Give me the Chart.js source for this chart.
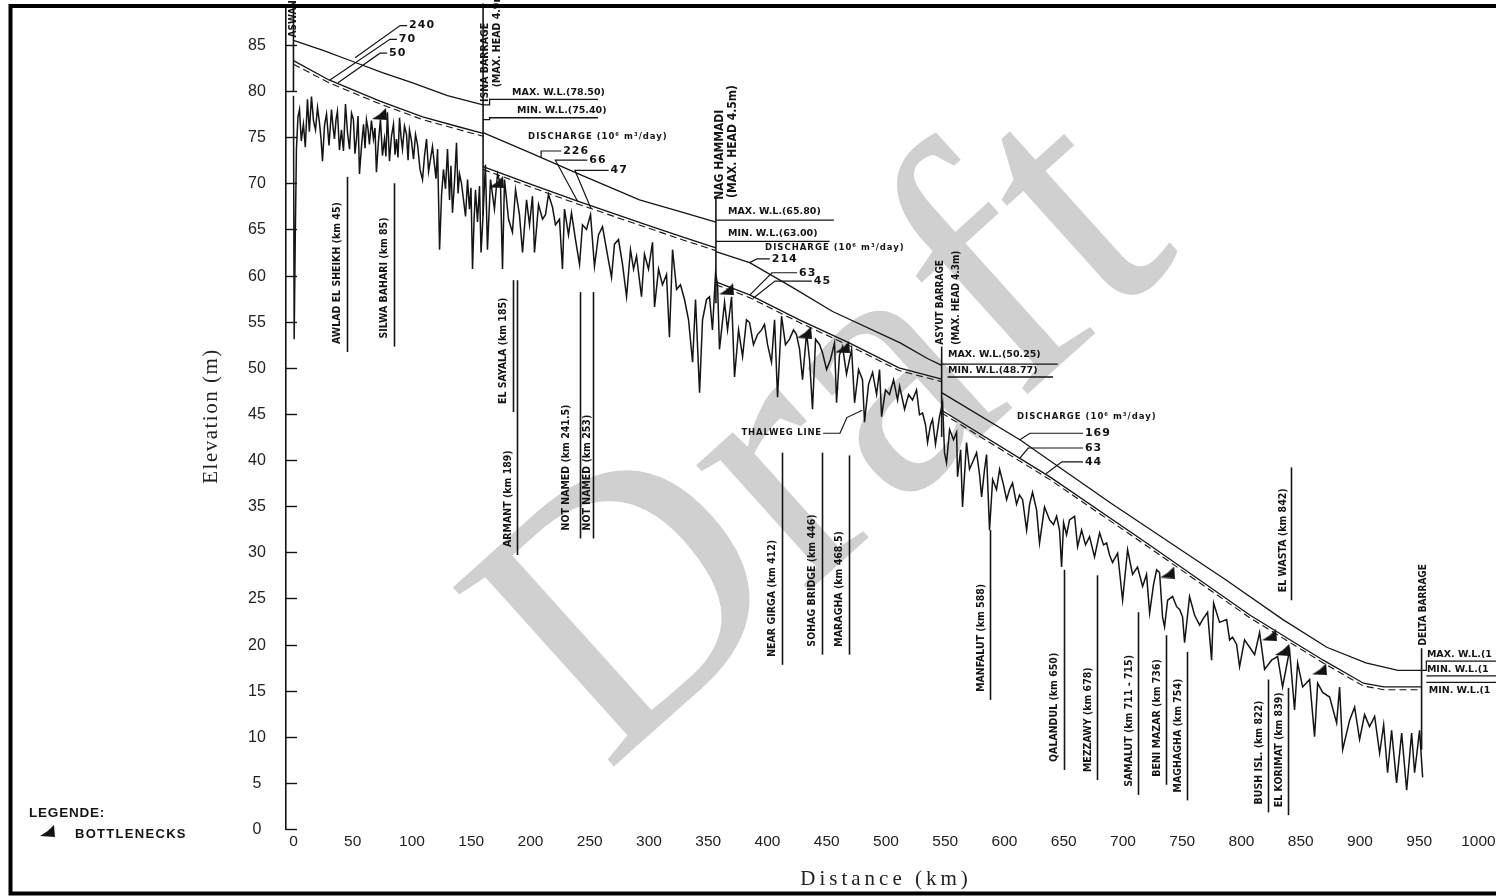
<!DOCTYPE html>
<html>
<head>
<meta charset="utf-8">
<title>Nile longitudinal profile, Aswan to Delta Barrage</title>
<script src="https://cdn.jsdelivr.net/npm/chart.js@4.4.1/dist/chart.umd.min.js"></script>
<style>
  html, body { margin: 0; padding: 0; background: #fff; }
  #wrap { width: 1496px; height: 896px; position: relative; overflow: hidden; }
  canvas { display: block; }
</style>
</head>
<body>
<div id="wrap"><canvas id="profile" width="1496" height="896"></canvas></div>
<script>
// ---------------------------------------------------------------------------
// Thalweg (deepest bed level) per reach, [distance km, elevation m]
// ---------------------------------------------------------------------------
const thalwegAswanIsna = [
  [0,79.5],[0.6,53.1],[1.5,64.0],[2.5,73.7],[3.8,77.2],[5.1,78.0],[6.6,74.6],[8.4,76.4],[10.0,73.9],
  [11.8,79.1],[13.4,75.6],[15.2,79.4],[16.9,76.8],[18.6,75.8],[20.3,78.2],[21.9,76.6],[23.2,74.9],
  [24.5,72.4],[26.2,76.3],[27.9,77.5],[30.0,74.1],[32.1,78.0],[33.4,76.1],[34.6,74.8],[35.9,76.9],
  [37.1,77.8],[38.8,73.6],[40.5,75.8],[42.2,73.5],[43.9,78.6],[45.6,75.5],[47.3,73.7],[49.0,77.6],
  [50.6,76.9],[51.9,73.2],[53.2,74.8],[54.5,77.3],[55.7,71.0],[57.4,74.0],[59.1,76.4],[60.4,73.8],
  [61.6,76.9],[62.9,75.9],[64.1,74.2],[65.8,76.8],[67.5,74.8],[68.8,76.0],[70.0,71.2],[71.7,74.5],
  [73.4,76.9],[75.1,73.0],[76.8,74.8],[78.0,72.9],[79.3,77.7],[81.0,72.4],[82.7,75.1],[84.4,76.4],
  [85.7,73.1],[86.9,74.8],[88.2,72.8],[89.5,77.1],[90.8,75.0],[92.0,73.7],[93.7,76.2],[95.4,75.3],
  [96.7,72.5],[97.9,75.8],[99.6,74.6],[101.3,72.6],[103.0,75.3],[104.7,74.2],[106.8,71.5],[108.9,70.4],
  [110.6,73.0],[112.3,74.8],[114.0,71.3],[115.6,72.6],[117.3,74.0],[119.0,72.0],[120.3,70.5],[121.6,73.7],
  [123.3,62.8],[125.0,68.8],[126.6,71.5],[128.3,69.4],[130.0,73.7],[131.7,68.2],[132.9,71.9],[134.2,66.8],
  [135.9,70.2],[137.6,74.4],[138.9,68.9],[140.1,71.0],[141.8,70.0],[143.5,68.2],[145.2,66.4],[146.9,70.4],
  [148.5,67.2],[149.8,69.5],[151.1,60.7],[152.4,66.0],[153.6,69.3],[155.3,65.8],[157.0,69.7],[158.3,62.5],
  [159.5,65.3]
];
const thalwegIsnaNagHammadi = [
  [162.0,72.0],[163.7,62.8],[166.3,70.4],[169.6,67.2],[172.2,71.0],[174.7,69.9],[176.4,60.7],[178.1,70.4],
  [181.5,66.1],[184.8,64.7],[187.4,69.3],[190.7,66.6],[193.3,62.5],[196.7,68.2],[199.2,65.5],[201.7,68.6],
  [203.4,62.5],[206.8,67.7],[210.2,66.1],[212.7,66.6],[215.2,68.8],[218.6,67.4],[221.1,65.5],[224.5,66.1],
  [227.0,60.7],[228.7,67.2],[232.1,64.4],[234.6,66.8],[238.0,63.9],[241.4,61.2],[243.9,65.5],[247.3,65.0],
  [250.7,66.6],[254.0,61.0],[257.4,64.4],[260.8,65.3],[264.2,62.8],[268.4,59.8],[270.9,63.4],[274.3,63.9],
  [277.7,61.2],[281.1,57.7],[284.4,62.8],[287.0,60.7],[289.5,62.1],[293.7,57.7],[296.2,62.3],[299.6,60.7],
  [303.0,63.6],[304.7,56.6],[308.1,60.7],[311.4,59.0],[314.8,60.1],[317.3,53.3],[319.9,62.8],[323.3,58.5],
  [326.6,59.0],[330.0,57.4],[333.4,55.2],[336.8,50.6],[339.3,57.4],[342.7,47.3],[345.2,55.2],[348.6,57.4],
  [351.1,57.7],[353.6,54.1],[356.2,60.3]
];
const thalwegNagHammadiAsyut = [
  [357.9,59.0],[359.5,52.0],[363.8,57.1],[366.3,54.1],[369.7,57.7],[372.2,49.0],[375.6,54.1],[379.0,51.2],
  [382.3,55.2],[384.9,54.9],[388.2,52.5],[391.6,53.6],[395.0,54.1],[397.5,54.7],[400.1,52.5],[403.4,50.6],
  [406.0,55.2],[408.5,46.8],[411.9,55.6],[415.2,52.5],[418.6,53.1],[422.0,54.1],[424.5,53.6],[427.1,52.0],
  [429.6,48.7],[433.0,53.8],[435.5,50.9],[438.0,45.5],[440.6,53.1],[444.0,52.5],[446.5,51.6],[449.9,49.8],
  [453.2,50.9],[456.6,52.7],[458.3,46.2],[460.8,51.4],[463.4,52.3],[466.7,49.3],[471.0,52.0],[473.5,46.2],
  [476.9,49.8],[480.2,48.7],[481.9,44.1],[485.3,48.2],[488.7,49.5],[492.1,47.1],[494.6,49.8],[496.3,44.7],
  [499.6,47.6],[503.0,47.1],[506.4,48.7],[509.8,46.5],[511.5,48.0],[515.7,45.5],[519.1,47.1],[522.4,46.5],
  [525.8,47.6],[528.3,44.9],[530.9,45.1],[533.4,43.8],[535.1,41.9],[537.6,43.8],[539.3,44.4],[541.8,41.7],
  [545.2,44.7],[547.8,46.2]
];
const thalwegAsyutDelta = [
  [549.4,40.8],[551.1,39.7],[553.7,43.3],[557.0,42.2],[559.6,43.0],[560.4,38.2],[563.0,41.1],[564.6,34.9],
  [568.0,41.9],[570.5,39.0],[573.9,40.0],[576.5,40.8],[579.0,38.4],[580.7,36.0],[583.2,39.0],[584.9,40.6],
  [587.4,32.4],[590.0,37.9],[593.3,36.8],[595.9,39.0],[599.2,37.3],[601.8,35.7],[604.3,36.8],[606.8,37.5],
  [610.2,35.2],[612.7,36.2],[615.3,35.7],[618.7,32.4],[621.2,35.2],[623.7,36.5],[627.1,34.6],[629.6,31.0],
  [633.8,34.9],[638.1,33.5],[641.4,33.0],[644.0,33.9],[646.5,32.4],[648.2,28.4],[649.9,33.2],[652.4,31.9],
  [654.9,33.5],[659.2,33.9],[661.7,30.6],[665.1,32.4],[668.4,30.8],[671.8,31.7],[676.0,29.5],[680.3,32.1],
  [683.6,30.8],[686.2,31.0],[688.7,29.7],[691.2,28.9],[695.5,29.9],[699.7,24.8],[703.9,30.3],[708.1,27.6],
  [712.3,28.4],[716.6,26.3],[719.9,27.6],[722.5,23.4],[725.8,26.5],[728.4,28.1],[730.9,27.8],[733.4,23.0],
  [735.1,21.9],[737.7,24.8],[741.9,25.2],[745.3,24.1],[747.8,23.8],[750.3,23.0],[752.0,20.2],[756.2,25.2],
  [760.4,23.2],[764.7,22.1],[767.2,22.7],[771.4,23.5],[774.8,18.3],[776.5,24.5],[781.5,22.4],[787.5,22.7],
  [790.0,20.5],[792.5,20.8],[795.9,20.0],[798.4,17.6],[802.6,20.5],[806.9,19.7],[811.1,18.9],[815.3,21.3],
  [819.5,17.3],[825.4,18.3],[830.5,18.7],[834.7,15.4],[840.6,19.4],[844.8,12.9],[847.4,18.0],[851.6,15.4],
  [857.5,16.2],[861.7,10.0],[864.3,15.8],[868.5,14.8],[874.4,14.3],[880.3,11.5],[882.8,15.4],[885.4,8.6],
  [891.3,11.8],[895.5,13.2],[899.7,9.7],[903.9,12.4],[908.1,11.1],[912.4,12.2],[916.6,8.2],[920.0,11.3],
  [923.3,6.1],[926.7,10.7],[930.9,5.0],[935.2,10.4],[939.4,4.2],[943.6,10.4],[946.1,6.1],[950.3,10.7],
  [952.9,5.6]
];

// ---------------------------------------------------------------------------
// Water surface profiles, [km, elevation m]; null splits the reaches at barrages
// ---------------------------------------------------------------------------
const highDischargeLevel = [
  [0,85.5],[25,84.4],[50,83.2],[75,82.0],[100,80.9],[130,79.5],[160,78.5], null,
  [160,75.5],[200,73.3],[241,71.0],[292,68.2],[330,66.8],[356.5,65.8], null,
  [356.5,62.6],[385,61.4],[420,58.8],[455,56.1],[512,52.7],[535,51.0],[547,50.25], null,
  [547,47.3],[613,42.2],[689,35.4],[787,27.0],[835,22.7],[872,19.7],[905,18.0],[932,17.2],[952,17.2]
];
const midDischargeLevel = [
  [0,83.3],[30,81.2],[73,78.9],[109,77.2],[140,76.1],[160,75.4], null,
  [160,71.8],[200,69.9],[241,68.0],[298,65.5],[330,64.1],[356.5,63.0], null,
  [356.5,59.3],[385,57.9],[427,55.2],[469,52.7],[511,50.0],[547,48.77], null,
  [547,45.4],[638,38.2],[720,31.0],[807,23.2],[869,18.3],[903,15.8],[920,15.4],[952,15.4]
];
const lowDischargeLevel = [
  [0,82.9],[30,80.9],[73,78.6],[109,76.9],[140,75.8],[160,75.1], null,
  [160,71.5],[200,69.6],[241,67.7],[298,65.2],[330,63.8],[356.5,62.7], null,
  [356.5,59.0],[385,57.6],[427,54.9],[469,52.4],[511,49.7],[547,48.5], null,
  [547,45.1],[638,37.9],[720,30.7],[807,22.9],[869,18.0],[903,15.5],[920,15.1],[952,15.1]
];

// Discharge of each profile per reach (10^6 m3/day)
const dischargeHigh = [240, 226, 214, 169];
const dischargeMid  = [70, 66, 63, 63];
const dischargeLow  = [50, 47, 45, 44];

// Barrages
const barrageKm     = [0, 160, 356.5, 547, 952];
const barrageName   = ['ASWAN', 'ISNA BARRAGE', 'NAG HAMMADI', 'ASYUT BARRAGE', 'DELTA BARRAGE'];
const barrageHead   = ['', '(MAX. HEAD 4.9m)', '(MAX. HEAD 4.5m)', '(MAX. HEAD 4.3m)', ''];
const barrageMaxWL  = [null, 78.50, 65.80, 50.25, null];
const barrageMinWL  = [null, 75.40, 63.00, 48.77, null];

// Named sites along the river
const siteName = ['AWLAD EL SHEIKH (km 45)', 'SILWA BAHARI (km 85)', 'EL SAYALA (km 185)', 'ARMANT (km 189)',
  'NOT NAMED (km 241.5)', 'NOT NAMED (km 253)', 'NEAR GIRGA (km 412)', 'SOHAG BRIDGE (km 446)',
  'MARAGHA (km 468.5)', 'MANFALUT (km 588)', 'QALANDUL (km 650)', 'MEZZAWY (km 678)',
  'SAMALUT (km 711 - 715)', 'BENI MAZAR (km 736)', 'MAGHAGHA (km 754)', 'BUSH ISL. (km 822)',
  'EL KORIMAT (km 839)', 'EL WASTA (km 842)'];
const siteKm = [45, 85, 185, 189, 241.5, 253, 412, 446, 468.5, 588, 650, 678, 713, 736, 754, 822, 839, 842];

// Bottlenecks
const bottleneckKm   = [72.6, 171.3, 365.5, 431.3, 463.4, 737.7, 823.7, 834.7, 866.0];
const bottleneckElev = [77.5, 70.1, 58.5, 53.8, 52.2, 27.8, 21.0, 19.4, 17.3];

// Axis ticks
const distanceTicks  = { min: 0, max: 1000, step: 50 };
const elevationTicks = { min: 0, max: 85, step: 5 };

// ---------------------------------------------------------------------------
const INK = '#141414';
const toXY = arr => arr.map((p, i) => p ? { x: p[0], y: p[1] } : { x: arr[i - 1][0], y: null });

// Wedge symbol used for bottlenecks
function wedge(w, h) {
  const cv = document.createElement('canvas');
  cv.width = w; cv.height = h;
  const g = cv.getContext('2d');
  g.fillStyle = INK;
  g.beginPath();
  g.moveTo(w - 1, 0);
  g.lineTo(w, h);
  g.lineTo(0, h - 1);
  g.quadraticCurveTo(w * 0.55, h * 0.55, w - 1, 0);
  g.fill();
  return cv;
}
const wedgeImg = wedge(15, 12);

const thalwegAll = [].concat(thalwegAswanIsna, thalwegIsnaNagHammadi, thalwegNagHammadiAsyut, thalwegAsyutDelta);

// Large watermark behind the profile
const watermark = {
  id: 'watermark',
  beforeDatasetsDraw(chart) {
    const c = chart.ctx;
    c.save();
    c.translate(830, 442);
    c.rotate(-42 * Math.PI / 180);
    c.font = '368px "Liberation Serif", "DejaVu Serif", serif';
    c.fillStyle = '#d0d0d0';
    c.textAlign = 'center';
    c.textBaseline = 'middle';
    c.fillText('Draft', 0, 0);
    c.restore();
  }
};

// Barrages, labels, leaders, legend and frame
const notes = {
  id: 'profileNotes',
  afterDatasetsDraw(chart) {
    const c = chart.ctx, xs = chart.scales.x, ys = chart.scales.y, ca = chart.chartArea;
    const X = v => xs.getPixelForValue(v), Y = v => ys.getPixelForValue(v);
    const poly = (pts, w) => {
      c.beginPath();
      pts.forEach(([k, e], i) => i ? c.lineTo(X(k), Y(e)) : c.moveTo(X(k), Y(e)));
      c.lineWidth = w || 1.2; c.stroke();
    };
    const txt = (t, k, e, font, align, spacing) => {
      c.font = font; c.textAlign = align || 'left'; c.textBaseline = 'middle';
      c.letterSpacing = spacing || '0px';
      c.fillText(t, X(k), Y(e));
      c.letterSpacing = '0px';
    };
    const vtxt = (t, px, py, font) => {
      c.save(); c.translate(px, py); c.rotate(-Math.PI / 2);
      c.font = font; c.textAlign = 'left'; c.textBaseline = 'middle';
      c.fillText(t, 0, 0); c.restore();
    };
    c.save();
    c.strokeStyle = INK; c.fillStyle = INK; c.lineCap = 'butt';

    // axis tick marks (inward) and tick labels taken from the scales
    c.fillStyle = '#222';
    c.font = '16px "Liberation Sans", Arial, sans-serif';
    c.textAlign = 'center'; c.textBaseline = 'middle';
    ys.ticks.forEach(t => {
      if (t.value < elevationTicks.min || t.value > elevationTicks.max) return;
      const y = Math.round(Y(t.value)) + 0.5;
      c.beginPath(); c.moveTo(ca.left, y); c.lineTo(ca.left + 11, y); c.lineWidth = 1.4; c.stroke();
      c.fillText(String(t.value), 257, y);
    });
    c.font = '15.5px "Liberation Sans", Arial, sans-serif';
    xs.ticks.forEach(t => {
      if (t.value < distanceTicks.min || t.value > distanceTicks.max) return;
      c.fillText(String(t.value), X(t.value), ca.bottom + 13);
    });
    c.fillStyle = INK;

    // barrage verticals
    const barrageSpan = [[89.5, 80], [89.5, 66.5], [68.5, 57], [52.3, 42.5], [19.6, 8.6]];
    barrageKm.forEach((k, i) => poly([[k, barrageSpan[i][0]], [k, barrageSpan[i][1]]], 1.6));

    // barrage names (vertical)
    const cond = '"Liberation Sans Narrow", "DejaVu Sans Condensed", sans-serif';
    const nameFont = ['bold 10px ' + cond, 'bold 10.5px ' + cond, 'bold 12px ' + cond, 'bold 10px ' + cond, 'bold 10px ' + cond];
    const namePos = [[-0.4, 85.8], [161.9, 78.8], [359.5, 68.2], [546.0, 52.5], [953.2, 19.9]];
    const headPos = [null, [172.0, 80.4], [370.8, 68.4], [559.5, 52.5], null];
    barrageName.forEach((n, i) => {
      vtxt(n, X(namePos[i][0]), Y(namePos[i][1]), nameFont[i]);
      if (headPos[i]) vtxt(barrageHead[i], X(headPos[i][0]), Y(headPos[i][1]), nameFont[i]);
    });

    // max / min water level tags at the barrages
    const wlFont = 'bold 9.5px "DejaVu Sans", sans-serif';
    const tagPos = [null,
      { maxT: [184.5, 79.8], maxU: [[160, 78.5], [165.5, 78.5], [165.5, 79.1], [257, 79.1]],
        minT: [188.6, 77.9], minU: [[160, 76.9], [165.5, 76.9], [165.5, 77.1], [257, 77.1]] },
      { maxT: [366.7, 66.9], maxU: [[356.5, 66.0], [456, 66.0]],
        minT: [366.7, 64.5], minU: [[356.5, 63.7], [452.5, 63.7]] },
      { maxT: [552.3, 51.4], maxU: [[547, 50.4], [645, 50.4]],
        minT: [552.3, 49.7], minU: [[552, 49.0], [641, 49.0]] },
      null];
    tagPos.forEach((p, i) => {
      if (!p) return;
      txt('MAX. W.L.(' + barrageMaxWL[i].toFixed(2) + ')', p.maxT[0], p.maxT[1], wlFont);
      poly(p.maxU, 1.3);
      txt('MIN. W.L.(' + barrageMinWL[i].toFixed(2) + ')', p.minT[0], p.minT[1], wlFont);
      poly(p.minU, 1.3);
    });
    // Delta barrage tags run off the sheet
    txt('MAX. W.L.(1', 956.5, 18.9, wlFont);
    txt('MIN. W.L.(1', 956.5, 17.3, wlFont);
    txt('MIN. W.L.(1', 958.0, 15.0, wlFont);
    poly([[952, 17.2], [956, 17.2], [956, 18.2], [1020, 18.2]], 1.2);
    poly([[956, 16.6], [1020, 16.6]], 1.2);
    poly([[956, 15.9], [1020, 15.9]], 1.2);

    // discharge headers and leaders
    const dFont = 'bold 8.5px "DejaVu Sans", sans-serif';
    const nFont = 'bold 11px "DejaVu Sans", sans-serif';
    const head = 'DISCHARGE (10\u2076 m\u00b3/day)';
    txt(head, 198, 75.0, dFont, 'left', '1px');
    txt(head, 398, 63.0, dFont, 'left', '1px');
    txt(head, 610.6, 44.7, dFont, 'left', '1px');
    const leaders = [
      [[[52, 83.6], [90, 87.1], [96, 87.1]], [[30.8, 81.2], [81.4, 85.6], [87.3, 85.6]], [[37.6, 80.9], [73, 84.1], [79, 84.1]]],
      [[[209, 72.8], [209, 73.5], [226, 73.5]], [[240, 68.0], [221, 72.5], [248, 72.5]], [[251, 67.3], [237.5, 71.4], [266, 71.4]]],
      [[[385, 61.4], [391, 61.8], [402, 61.8]], [[385.2, 57.9], [403.8, 60.3], [425, 60.3]], [[387.7, 57.5], [406.3, 59.4], [437.5, 59.4]]],
      [[[613, 42.2], [621.5, 42.9], [666.3, 42.9]], [[613, 40.2], [620, 41.3], [666.3, 41.3]], [[635, 38.5], [648.5, 39.8], [666.3, 39.8]]]
    ];
    const values = [dischargeHigh, dischargeMid, dischargeLow];
    leaders.forEach((reach, r) => reach.forEach((pts, j) => {
      poly(pts, 1.2);
      const end = pts[pts.length - 1];
      txt(String(values[j][r]), end[0] + 1.6, end[1], nFont, 'left', '1px');
    }));

    // thalweg label
    txt('THALWEG LINE', 446, 42.9, 'bold 8.5px "DejaVu Sans", sans-serif', 'right', '0.8px');
    poly([[447, 42.9], [461.2, 42.9], [467, 44.6], [480, 45.4]], 1.2);

    // site markers (vertical rule with name alongside)
    const siteSpan = [[70.7, 51.7], [70.0, 52.3], [59.5, 45.2], [59.5, 29.7], [58.2, 31.5], [58.2, 31.5],
      [40.8, 17.8], [40.8, 18.9], [40.5, 18.9], [32.4, 14.0], [28.1, 6.4], [27.5, 5.3], [23.5, 3.7],
      [21.0, 4.8], [19.2, 3.1], [16.2, 1.8], [15.3, 1.5], [39.2, 24.8]];
    const siteGap = [10, 10, 10, 9, 14, 6.5, 10, 10, 10, 9, 10, 9, 9, 9, 9, 9, 9, 8];
    const siteFont = 'bold 10.5px ' + cond;
    siteName.forEach((n, i) => {
      const x = Math.round(X(siteKm[i])) + 0.5;
      c.beginPath(); c.moveTo(x, Y(siteSpan[i][0])); c.lineTo(x, Y(siteSpan[i][1])); c.lineWidth = 1.6; c.stroke();
      vtxt(n, x - siteGap[i], Y(siteSpan[i][1]) - 8, siteFont);
    });

    // axis titles
    c.fillStyle = '#222';
    c.save();
    c.translate(211, 416); c.rotate(-Math.PI / 2);
    c.font = '21px "Liberation Serif", "DejaVu Serif", serif';
    c.textAlign = 'center'; c.textBaseline = 'middle'; c.letterSpacing = '1.5px';
    c.fillText('Elevation (m)', 0, 0);
    c.restore();
    c.font = '21px "Liberation Serif", "DejaVu Serif", serif';
    c.textAlign = 'center'; c.textBaseline = 'middle'; c.letterSpacing = '4px';
    c.fillText('Distance (km)', 886, 879);
    c.letterSpacing = '0px';

    // legend
    c.fillStyle = INK;
    c.font = 'bold 13.5px "Liberation Sans", Arial, sans-serif';
    c.textAlign = 'left'; c.textBaseline = 'middle';
    c.letterSpacing = '0.8px';
    c.fillText('LEGENDE:', 29, 813);
    c.drawImage(wedgeImg, 40, 825);
    c.font = 'bold 13px "Liberation Sans", Arial, sans-serif';
    c.letterSpacing = '1.3px';
    c.fillText('BOTTLENECKS', 75, 834);
    c.letterSpacing = '0px';

    // sheet frame
    c.strokeStyle = '#000'; c.lineWidth = 4;
    c.strokeRect(10.5, 6, 1500, 887.5);
    c.restore();
  }
};

new Chart(document.getElementById('profile'), {
  type: 'line',
  data: {
    datasets: [
      { label: 'Thalweg', data: toXY(thalwegAll), borderColor: INK, borderWidth: 1.5, pointRadius: 0, tension: 0 },
      { label: 'High discharge', data: toXY(highDischargeLevel), borderColor: INK, borderWidth: 1.3, pointRadius: 0, spanGaps: false },
      { label: 'Medium discharge', data: toXY(midDischargeLevel), borderColor: INK, borderWidth: 1.3, pointRadius: 0, spanGaps: false },
      { label: 'Low discharge', data: toXY(lowDischargeLevel), borderColor: INK, borderWidth: 1.1, borderDash: [7, 4], pointRadius: 0, spanGaps: false },
      { label: 'Bottlenecks', data: bottleneckKm.map((k, i) => ({ x: k, y: bottleneckElev[i] })),
        showLine: false, pointStyle: wedgeImg, pointRadius: 7, borderColor: INK, backgroundColor: INK }
    ]
  },
  options: {
    responsive: false,
    animation: false,
    devicePixelRatio: 1,
    layout: { padding: { top: 8, left: 0, right: 0, bottom: 0 }, autoPadding: false },
    plugins: { legend: { display: false }, tooltip: { enabled: false } },
    scales: {
      x: {
        type: 'linear', min: -6.3, max: 1014.8,
        grid: { display: false, drawTicks: false },
        border: { display: false },
        ticks: { display: false, stepSize: distanceTicks.step, includeBounds: false, autoSkip: false },
        afterFit(s) { s.height = 67; }
      },
      y: {
        min: 0, max: 89.0,
        grid: { display: false, drawTicks: false },
        border: { display: true, color: INK, width: 1.6 },
        ticks: { display: false, stepSize: elevationTicks.step, includeBounds: false },
        afterFit(s) { s.width = 286; }
      }
    }
  },
  plugins: [watermark, notes]
});
</script>
</body>
</html>
